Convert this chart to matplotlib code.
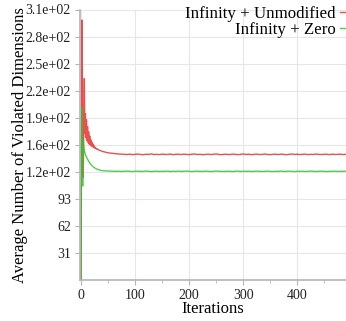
import matplotlib
matplotlib.use('Agg')
import matplotlib.pyplot as plt
from matplotlib.ticker import FormatStrFormatter, MultipleLocator

plt.rcParams['font.family'] = ['Liberation Serif', 'DejaVu Serif']

# iterations 0..40 one by one, then every 5 up to 490
iters = list(range(0, 41)) + list(range(45, 491, 5))

red_early = [0, 240, 298, 130, 118, 170, 231, 168, 191, 163,
             184, 160, 176, 158, 170, 156, 165, 155, 161, 154,
             158, 153, 156, 152, 154, 151.5, 152.5, 150.8, 151.2, 150.2,
             150.4, 149.7, 149.6, 149.2, 149.0, 148.7, 148.5, 148.2, 148.0, 147.7,
             147.5]
red_late = [146.7, 146.0, 145.6, 145.2, 144.9, 144.6, 144.5, 144.3, 144.0, 144.5,
            143.9, 144.3, 144.6, 144.1, 143.8, 144.4, 144.2, 144.7, 144.0, 144.3,
            143.9, 144.5, 144.2, 144.1, 144.6, 143.8, 144.3, 144.4, 144.0, 144.5,
            144.2, 143.9, 144.4, 144.6, 144.1, 144.3, 143.8, 144.2, 144.5, 144.0,
            144.3, 144.7, 144.1, 143.9, 144.4, 144.2, 144.0, 144.5, 144.3, 143.9,
            144.2, 144.6, 144.1, 144.4, 143.8, 144.3, 144.5, 144.0, 144.2, 144.6,
            144.1, 143.9, 144.3, 144.4, 144.0, 144.5, 144.2, 143.8, 144.3, 144.6,
            144.1, 144.4, 144.0, 144.2, 144.5, 143.9, 144.3, 144.1, 144.6, 144.2,
            144.0, 144.4, 144.3, 143.9, 144.5, 144.1, 144.2, 144.4, 144.0, 144.3]
green_early = [0, 198, 140, 108, 160, 153, 149, 146, 144, 142.5,
               141, 139.8, 138.6, 137.4, 136.4, 135.4, 134.5, 133.6, 132.8, 132.1,
               131.4, 130.8, 130.2, 129.7, 129.2, 128.8, 128.4, 128.0, 127.7, 127.4,
               127.1, 126.9, 126.7, 126.5, 126.3, 126.1, 126.0, 125.8, 125.7, 125.6,
               125.5]
green_late = [125.3, 125.1, 125.0, 124.9, 124.8, 125.0, 124.7, 124.9, 125.1, 124.8,
              124.6, 124.9, 125.0, 124.7, 124.8, 125.1, 124.9, 124.6, 124.8, 125.0,
              124.7, 124.9, 124.8, 125.1, 124.6, 124.9, 124.8, 125.0, 124.7, 124.9,
              125.1, 124.8, 124.6, 124.9, 125.0, 124.8, 124.7, 125.0, 124.9, 124.6,
              124.8, 125.1, 124.9, 124.7, 124.8, 125.0, 124.9, 124.6, 124.8, 125.1,
              124.7, 124.9, 124.8, 125.0, 124.6, 124.9, 125.1, 124.8, 124.7, 124.9,
              125.0, 124.8, 124.6, 124.9, 124.8, 125.1, 124.7, 124.9, 125.0, 124.8,
              124.6, 124.9, 124.8, 125.0, 124.7, 124.9, 125.1, 124.8, 124.7, 124.9,
              125.0, 124.8, 124.6, 124.9, 124.8, 125.0, 124.7, 124.9, 124.8, 125.0]

red = red_early + red_late
green = green_early + green_late
labels = ['Infinity + Unmodified', 'Infinity + Zero']

fig = plt.figure(figsize=(3.46, 3.21), dpi=100)
ax = fig.add_axes([80 / 346, 1 - 280.4 / 321, 1 - 80 / 346, (280.4 - 9.5) / 321])

l1, = ax.plot(iters, red, color='#e8302f', alpha=0.85, lw=1.0, label=labels[0])
l2, = ax.plot(iters, green, color='#33c430', alpha=0.85, lw=1.0, label=labels[1])

ax.set_xlim(-2, 490)
ax.set_ylim(0, 310)
ax.yaxis.set_major_formatter(FormatStrFormatter('%.2g'))
ax.xaxis.set_major_locator(MultipleLocator(100))
ax.xaxis.set_minor_locator(MultipleLocator(50))
ax.set_yticks([31 * k for k in range(1, 11)])

ax.grid(True, which='major', color='#e6e6e6', lw=0.8)
ax.set_axisbelow(True)
for s in ['top', 'right']:
    ax.spines[s].set_visible(False)
for s in ['left', 'bottom']:
    ax.spines[s].set_color('#b4b4b4')
    ax.spines[s].set_linewidth(1.2)
ax.tick_params(which='both', color='#b4b4b4', labelcolor='#222222', labelsize=10, direction='out')
ax.tick_params(which='major', length=3.5, pad=3)
ax.tick_params(which='minor', length=2)

ax.set_xlabel('Iterations', fontsize=12)
ax.set_ylabel('Average Number of Violated Dimensions', fontsize=12)
ax.yaxis.set_label_coords(-0.195, 0.5)
ax.xaxis.set_label_coords(0.5, -0.076)
ax.xaxis.label.set_va('top')

ax.legend(handles=[l1, l2], loc='upper right', bbox_to_anchor=(1.0, 0.982),
          bbox_transform=fig.transFigure, markerfirst=False, frameon=False,
          fontsize=12.2, handlelength=0.33, handletextpad=0.3, labelspacing=0.0,
          borderpad=0, borderaxespad=0)

fig.savefig('out.png', dpi=100)
